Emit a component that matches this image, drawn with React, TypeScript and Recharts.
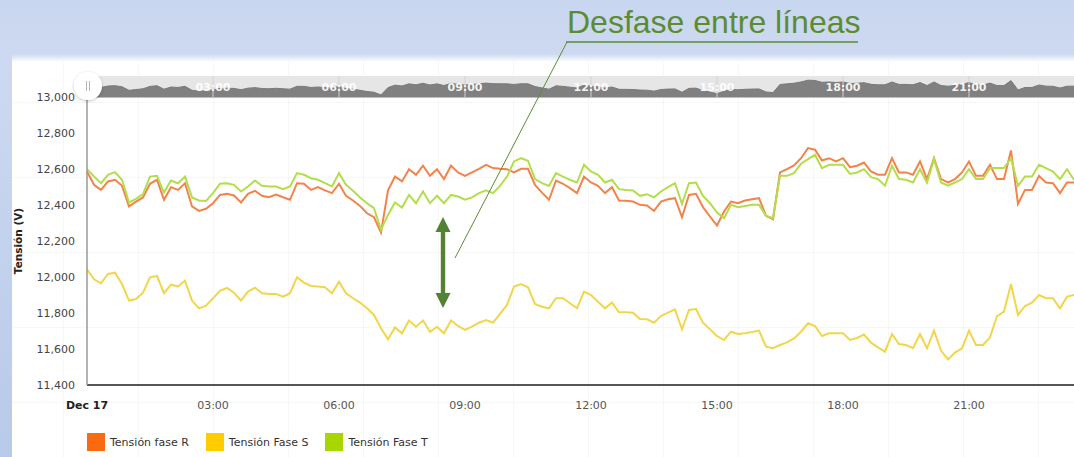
import React from 'react';
import { LineChart, Line, XAxis, YAxis, Legend, AreaChart, Area } from 'recharts';

const times = [
  '00:00','00:10','00:20','00:30','00:40','00:50',
  '01:00','01:10','01:20','01:30','01:40','01:50',
  '02:00','02:10','02:20','02:30','02:40','02:50',
  '03:00','03:10','03:20','03:30','03:40','03:50',
  '04:00','04:10','04:20','04:30','04:40','04:50',
  '05:00','05:10','05:20','05:30','05:40','05:50',
  '06:00','06:10','06:20','06:30','06:40','06:50',
  '07:00','07:10','07:20','07:30','07:40','07:50',
  '08:00','08:10','08:20','08:30','08:40','08:50',
  '09:00','09:10','09:20','09:30','09:40','09:50',
  '10:00','10:10','10:20','10:30','10:40','10:50',
  '11:00','11:10','11:20','11:30','11:40','11:50',
  '12:00','12:10','12:20','12:30','12:40','12:50',
  '13:00','13:10','13:20','13:30','13:40','13:50',
  '14:00','14:10','14:20','14:30','14:40','14:50',
  '15:00','15:10','15:20','15:30','15:40','15:50',
  '16:00','16:10','16:20','16:30','16:40','16:50',
  '17:00','17:10','17:20','17:30','17:40','17:50',
  '18:00','18:10','18:20','18:30','18:40','18:50',
  '19:00','19:10','19:20','19:30','19:40','19:50',
  '20:00','20:10','20:20','20:30','20:40','20:50',
  '21:00','21:10','21:20','21:30','21:40','21:50',
  '22:00','22:10','22:20','22:30','22:40','22:50',
  '23:00','23:10','23:20','23:30',
];

const faseR = [
  12586,12512,12484,12531,12540,12507,12392,12419,12442,12518,
  12540,12429,12499,12484,12521,12392,12367,12379,12410,12456,
  12462,12453,12414,12462,12479,12451,12443,12458,12443,12429,
  12521,12518,12484,12499,12481,12466,12518,12451,12425,12395,
  12354,12332,12247,12481,12558,12531,12599,12568,12618,12562,
  12599,12544,12618,12581,12562,12581,12601,12623,12605,12601,
  12599,12581,12601,12601,12512,12469,12429,12536,12518,12494,
  12466,12558,12525,12506,12466,12499,12425,12423,12419,12401,
  12397,12367,12419,12432,12438,12332,12456,12462,12388,12336,
  12286,12364,12419,12410,12425,12432,12438,12340,12321,12581,
  12599,12620,12660,12716,12707,12647,12660,12642,12660,12610,
  12618,12636,12586,12568,12568,12660,12581,12581,12568,12642,
  12544,12660,12544,12525,12544,12581,12642,12562,12562,12623,
  12544,12544,12703,12406,12484,12484,12562,12525,12521,12466,
  12525,12525,
];

const faseS = [
  12043,11987,11965,12017,12024,11961,11869,11878,11913,11998,
  12006,11910,11958,11947,11980,11869,11826,11841,11882,11923,
  11939,11913,11869,11919,11941,11910,11906,11906,11891,11910,
  11998,11969,11950,11947,11943,11910,11974,11910,11882,11858,
  11826,11789,11715,11654,11720,11687,11758,11724,11758,11696,
  11724,11687,11758,11728,11706,11724,11746,11761,11746,11795,
  11845,11947,11961,11943,11850,11835,11826,11882,11882,11854,
  11826,11919,11900,11863,11826,11858,11804,11804,11802,11767,
  11765,11746,11783,11802,11820,11709,11817,11822,11746,11709,
  11672,11650,11696,11683,11687,11694,11702,11613,11604,11622,
  11637,11659,11696,11743,11728,11672,11687,11687,11687,11650,
  11661,11680,11635,11609,11585,11683,11628,11622,11604,11683,
  11604,11702,11591,11542,11580,11604,11702,11622,11622,11665,
  11783,11808,11961,11789,11839,11857,11900,11882,11882,11826,
  11891,11900,
];

const faseT = [
  12599,12558,12521,12568,12583,12540,12414,12434,12460,12558,
  12562,12469,12536,12521,12558,12442,12425,12423,12466,12518,
  12521,12512,12475,12503,12536,12507,12503,12503,12488,12503,
  12577,12568,12549,12540,12521,12503,12577,12512,12479,12442,
  12410,12382,12262,12345,12414,12386,12456,12410,12475,12410,
  12451,12410,12456,12447,12429,12442,12466,12481,12466,12506,
  12558,12642,12660,12646,12544,12521,12506,12577,12558,12540,
  12525,12623,12586,12568,12525,12540,12488,12484,12481,12451,
  12460,12443,12475,12499,12521,12406,12521,12525,12451,12410,
  12358,12327,12401,12388,12395,12401,12401,12340,12327,12562,
  12562,12577,12629,12655,12679,12605,12623,12623,12623,12573,
  12581,12599,12555,12544,12507,12618,12544,12540,12525,12599,
  12525,12655,12525,12507,12525,12544,12599,12544,12544,12605,
  12605,12605,12660,12507,12558,12558,12623,12605,12586,12544,
  12599,12540,
];

const yTicks = [11400, 11600, 11800, 12000, 12200, 12400, 12600, 12800, 13000];
const xTicks = ['00:00', '03:00', '06:00', '09:00', '12:00', '15:00', '18:00', '21:00'];
const firstDayLabel = 'Dec 17';
const seriesNames = { R: 'Tensión fase R', S: 'Tensión Fase S', T: 'Tensión Fase T' };
const yAxisTitle = 'Tensión (V)';
const annotationText = 'Desfase entre líneas';

const lineColors = { R: '#f3834a', S: '#f1d64c', T: '#b4dd4c' };
const legendColors = { R: '#fa6a12', S: '#ffcc00', T: '#a8d600' };

const data = times.map((t, i) => ({ time: t, R: faseR[i], S: faseS[i], T: faseT[i] }));

const FONT = '"DejaVu Sans", Verdana, sans-serif';

const XTick = (props: any) => {
  const { x, y, payload } = props;
  const first = payload.value === xTicks[0];
  return (
    <text x={x} y={y} dy="0.71em" textAnchor="middle" fontFamily={FONT} fontSize={11}
      fontWeight={first ? 'bold' : 'normal'} fill={first ? '#222' : '#555'}>
      {first ? firstDayLabel : payload.value}
    </text>
  );
};

const NavTick = (props: any) => {
  const { x, payload } = props;
  if (payload.value === xTicks[0]) return <g />;
  return (
    <g>
      <line x1={x} x2={x} y1={0} y2={21} stroke="#d2d2d2" strokeWidth={1} />
      <text x={x} y={15} textAnchor="middle" fontFamily={FONT} fontSize={11} fontWeight="bold" fill="#ffffff" fillOpacity={0.92}>
        {payload.value}
      </text>
    </g>
  );
};

const renderLegend = (props: any) => {
  const { payload } = props;
  return (
    <div style={{ display: 'flex', alignItems: 'center', fontFamily: FONT, fontSize: 11, color: '#333' }}>
      {payload.map((p: any) => (
        <div key={p.dataKey} style={{ display: 'flex', alignItems: 'center', marginRight: 17 }}>
          <span style={{ display: 'inline-block', width: 18, height: 18, background: (legendColors as any)[p.dataKey], marginRight: 5 }} />
          <span>{p.value}</span>
        </div>
      ))}
    </div>
  );
};

export default function App() {
  return (
    <div style={{ position: 'absolute', left: 0, top: 0, width: 1074, height: 457, overflow: 'hidden',
      background: 'linear-gradient(180deg, #c9d6ef 0%, #cdd9f0 55px, #b8cae9 100%)' }}>
      <div style={{ position: 'absolute', left: 12, top: 54, right: 0, bottom: 0,
        background: 'linear-gradient(180deg, rgba(255,255,255,0) 0px, #ffffff 8px)' }} />
      <div style={{ position: 'absolute', left: 12, top: 62, right: 0, bottom: 0,
        backgroundImage: 'linear-gradient(90deg, rgba(0,0,0,0.03) 1px, transparent 1px), linear-gradient(180deg, rgba(0,0,0,0.03) 1px, transparent 1px)',
        backgroundSize: '75px 75px', backgroundPosition: '51px 40px' }} />
      <div style={{ position: 'absolute', left: 0, top: 0 }}>
        <LineChart width={1074} height={457} data={data} margin={{ top: 97, right: 0, bottom: 42, left: 0 }}>
          <XAxis dataKey="time" ticks={xTicks} interval={0} tick={<XTick />} tickLine={false}
            tickSize={6} tickMargin={10} height={30} axisLine={{ stroke: '#555', strokeWidth: 2 }} />
          <YAxis domain={[11400, 13000]} ticks={yTicks} width={87} tickLine={false} tickSize={6} tickMargin={6}
            tickFormatter={(v: number) => v.toLocaleString('en-US')}
            tick={{ fontFamily: FONT, fontSize: 11, fill: '#444' }}
            axisLine={{ stroke: '#999', strokeWidth: 1.5 }}
            label={{ value: yAxisTitle, angle: -90, position: 'insideLeft', offset: 18,
              style: { textAnchor: 'middle', fontFamily: FONT, fontSize: 10.5, fontWeight: 'bold', fill: '#222' } }} />
          <Line type="linear" dataKey="R" name={seriesNames.R} stroke={lineColors.R} strokeWidth={2} dot={false} isAnimationActive={false} />
          <Line type="linear" dataKey="S" name={seriesNames.S} stroke={lineColors.S} strokeWidth={2} dot={false} isAnimationActive={false} />
          <Line type="linear" dataKey="T" name={seriesNames.T} stroke={lineColors.T} strokeWidth={2} dot={false} isAnimationActive={false} />
          <Legend verticalAlign="middle" align="center" layout="horizontal" content={renderLegend} itemSorter="dataKey"
            wrapperStyle={{ top: 433, left: 87, width: 500, height: 18, bottom: 'auto', right: 'auto' }} />
        </LineChart>
      </div>
      <div style={{ position: 'absolute', left: 87, top: 76, width: 987, height: 21, background: '#e6e6e6', borderBottom: '1px solid #bdbdbd' }} />
      <div style={{ position: 'absolute', left: 87, top: 76 }}>
        <AreaChart width={987} height={21} data={data} margin={{ top: 0, right: 0, bottom: 0, left: 0 }}>
          <YAxis hide domain={[12180, 12850]} />
          <XAxis dataKey="time" hide />
          <Area type="linear" dataKey="R" stroke="#7a7a7a" strokeWidth={1} fill="#808080" fillOpacity={1} isAnimationActive={false} />
        </AreaChart>
      </div>
      <div style={{ position: 'absolute', left: 87, top: 76 }}>
        <AreaChart width={987} height={24} data={data} margin={{ top: 0, right: 0, bottom: 0, left: 0 }}>
          <YAxis hide domain={[12180, 12850]} />
          <XAxis dataKey="time" orientation="top" ticks={xTicks} interval={0} height={21} axisLine={false} tickLine={false} tick={<NavTick />} />
          <Area type="linear" dataKey="R" stroke="none" fill="none" isAnimationActive={false} />
        </AreaChart>
      </div>
      <svg width={1074} height={457} style={{ position: 'absolute', left: 0, top: 0, pointerEvents: 'none' }}>
        <defs>
          <filter id="hs" x="-50%" y="-50%" width="200%" height="200%">
            <feDropShadow dx="0" dy="1" stdDeviation="1.5" floodColor="#000" floodOpacity="0.25" />
          </filter>
        </defs>
        <circle cx={88} cy={86} r={14} fill="#ffffff" filter="url(#hs)" />
        <line x1={86.5} x2={86.5} y1={81} y2={91} stroke="#b8b8b8" strokeWidth={1} />
        <line x1={89.5} x2={89.5} y1={81} y2={91} stroke="#b8b8b8" strokeWidth={1} />
        <text x={567} y={33} fontFamily='"Liberation Sans", Arial, sans-serif' fontSize={32} fill="#5b8c32">{annotationText}</text>
        <line x1={566} x2={858} y1={42} y2={42} stroke="#5b8c32" strokeWidth={1.3} />
        <line x1={567} y1={42} x2={455} y2={258} stroke="#5b8c32" strokeWidth={1} />
        <rect x={440.8} y={230} width={4.4} height={64} fill="#548235" />
        <polygon points="443,217 435.5,232 450.5,232" fill="#548235" />
        <polygon points="443,308 435.5,293 450.5,293" fill="#548235" />
      </svg>
    </div>
  );
}
